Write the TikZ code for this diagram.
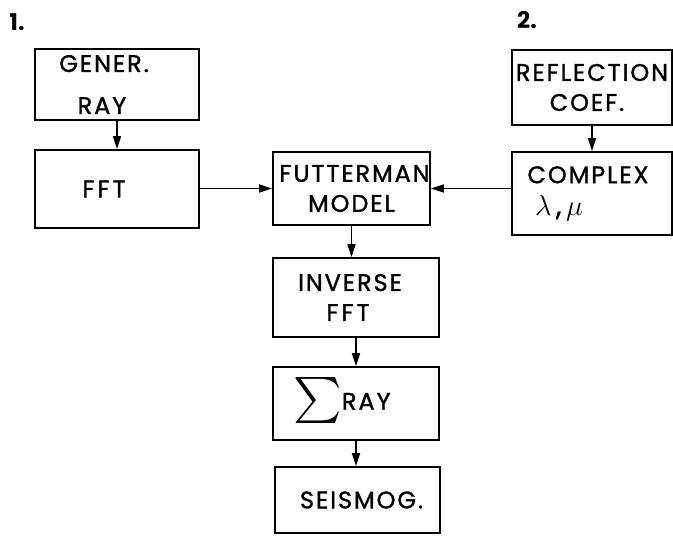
\documentclass[tikz,border=0pt]{standalone}
\usepackage{fontspec}
\setmainfont{Poppins}
\newfontfamily\boxfont{Poppins}[LetterSpace=8,FakeBold=1.3]
\usetikzlibrary{arrows.meta}
\begin{document}
\begin{tikzpicture}[x=1pt,y=-1pt,
  box/.style={draw,line width=1.8pt,minimum width=#1,inner sep=0pt,align=center,font=\fontsize{24}{30}\boxfont},
  arr/.style={line width=1.6pt,-{Triangle[length=13pt,width=8pt]}}]
\useasboundingbox (0,0) rectangle (673,543);
\node[box=164pt,minimum height=71pt] (gen) at (117,84.5) {GENER.\hspace*{26pt}\\[12pt]RAY\hspace*{30pt}};
\node[box=164pt,minimum height=78pt] (fft) at (117,189) {F\hspace{3pt}F\hspace{3pt}T\hspace*{26pt}};
\node[box=157pt,minimum height=73pt] (fut) at (351.5,188.5) {FUTTERMAN\hspace*{-6pt}\\MODEL};
\node[box=166pt,minimum height=79pt] (inv) at (356,297.5) {INVERSE\hspace*{12pt}\\F\hspace{3pt}F\hspace{3pt}T\hspace*{16pt}};
\node[box=166pt,minimum height=73pt] (sum) at (356,403.5) {$\vcenter{\hbox{\scalebox{4.6}{$\sum$}}}$RAY\hspace*{28pt}};
\node[box=165pt,minimum height=66pt] (seis) at (357.5,500) {\hspace*{8pt}SEISMOG.};
\node[box=160pt,minimum height=83pt] (comp) at (592,193.5) {COMPLEX\hspace*{8pt}\\[2pt]\scalebox{1.15}{$\lambda$\,,\,$\mu$}\hspace*{66pt}};
\node[box=160pt,minimum height=75pt] (refl) at (592,87.5) {REFLECTION\\COEF.\hspace*{10pt}};
\node[font=\fontsize{23}{26}\selectfont\bfseries] (n1) at (17,22) {1.};
\node[font=\fontsize{23}{26}\selectfont\bfseries] (n2) at (527,20) {2.};
\draw[arr] (gen.south) -- (fft.north);
\draw[arr] (fft.east |- fut) -- (fut.west);
\draw[arr] (fut -| comp.west) -- (fut.east);
\draw[arr] (fut.south) -- (fut.south |- inv.north);
\draw[arr] (inv.south) -- (sum.north);
\draw[arr] (sum.south) -- (seis.north -| sum.south);
\draw[arr] (refl.south) -- (comp.north);
\end{tikzpicture}
\end{document}
